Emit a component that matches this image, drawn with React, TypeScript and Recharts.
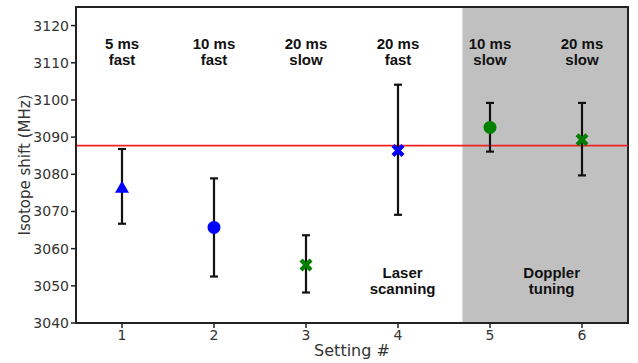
import React from "react";
import {
  ComposedChart,
  Scatter,
  XAxis,
  YAxis,
  ErrorBar,
  ReferenceArea,
  ReferenceLine,
  ReferenceDot,
  Label,
} from "recharts";

const settings = [1, 2, 3, 4, 5, 6];
const shift = [3076.4, 3065.7, 3055.6, 3086.4, 3092.6, 3089.3];
const lower = [3066.7, 3052.5, 3048.2, 3069.1, 3086.1, 3079.7];
const upper = [3086.8, 3078.9, 3063.6, 3104.1, 3099.2, 3099.2];
const markers = ["triangle", "circle", "cross", "cross", "circle", "cross"];
const colors = ["#0000ff", "#0000ff", "#008000", "#0000ff", "#008000", "#008000"];
const topLabels = [
  ["5 ms", "fast"],
  ["10 ms", "fast"],
  ["20 ms", "slow"],
  ["20 ms", "fast"],
  ["10 ms", "slow"],
  ["20 ms", "slow"],
];
const groupLabels = [
  { x: 4.05, lines: ["Laser", "scanning"] },
  { x: 5.67, lines: ["Doppler", "tuning"] },
];
const yTicks = [3040, 3050, 3060, 3070, 3080, 3090, 3100, 3110, 3120];
const meanShift = 3087.7;
const dopplerStart = 4.7;

const data = settings.map((s, i) => ({
  x: s,
  y: shift[i],
  err: [shift[i] - lower[i], upper[i] - shift[i]],
  marker: markers[i],
  color: colors[i],
}));

const tickFont = { fontFamily: "DejaVu Sans", fontSize: 14, fill: "#333" };
const noteFont = "Liberation Sans, Arial, sans-serif";

function MarkerShape(props: any) {
  const { cx, cy, payload } = props;
  const c = payload.color;
  if (payload.marker === "triangle") {
    return <path d={`M${cx},${cy - 7} L${cx + 7},${cy + 5} L${cx - 7},${cy + 5} Z`} fill={c} />;
  }
  if (payload.marker === "circle") {
    return <circle cx={cx} cy={cy} r={6.5} fill={c} />;
  }
  const a = 5;
  return (
    <g>
      <line x1={cx - a} y1={cy - a} x2={cx + a} y2={cy + a} stroke={c} strokeWidth={4.2} />
      <line x1={cx - a} y1={cy + a} x2={cx + a} y2={cy - a} stroke={c} strokeWidth={4.2} />
    </g>
  );
}

function TwoLineLabel(props: any) {
  const { viewBox, lines, dy } = props;
  const cx = viewBox.x + viewBox.width / 2;
  const cy = viewBox.y + viewBox.height / 2;
  return (
    <text
      x={cx}
      y={cy + dy}
      textAnchor="middle"
      fontFamily={noteFont}
      fontWeight="bold"
      fontSize={15}
      fill="#111"
    >
      <tspan x={cx} dy={0}>{lines[0]}</tspan>
      <tspan x={cx} dy={16}>{lines[1]}</tspan>
    </text>
  );
}

export default function App() {
  return (
    <div style={{ position: "absolute", left: 0, top: 0, background: "#fff" }}>
      <ComposedChart
        width={638}
        height={363}
        data={data}
        margin={{ top: 7, right: 10, bottom: 0, left: 0 }}
      >
        <ReferenceArea
          x1={dopplerStart}
          x2={6.5}
          y1={3040}
          y2={3125}
          fill="#c0c0c0"
          fillOpacity={1}
          stroke="none"
        />
        <XAxis
          type="number"
          dataKey="x"
          domain={[0.5, 6.5]}
          ticks={settings}
          height={40}
          tick={tickFont}
          tickSize={5}
          tickLine={{ stroke: "#222", strokeWidth: 1.5 }}
          axisLine={{ stroke: "#222", strokeWidth: 2 }}
        >
          <Label
            value="Setting #"
            position="insideBottom"
            offset={7}
            style={{ fontFamily: "DejaVu Sans", fontSize: 16, fill: "#333" }}
          />
        </XAxis>
        <YAxis
          type="number"
          dataKey="y"
          domain={[3040, 3125]}
          ticks={yTicks}
          width={76}
          allowDataOverflow
          tick={tickFont}
          tickSize={5}
          tickLine={{ stroke: "#222", strokeWidth: 1.5 }}
          axisLine={{ stroke: "#222", strokeWidth: 2 }}
        >
          <Label
            value="Isotope shift (MHz)"
            angle={-90}
            position="insideLeft"
            offset={25}
            style={{ textAnchor: "middle", fontFamily: "DejaVu Sans", fontSize: 15, fill: "#333" }}
          />
        </YAxis>
        <ReferenceLine y={meanShift} stroke="#ee2222" strokeWidth={1.8} />
        <Scatter dataKey="y" shape={MarkerShape} isAnimationActive={false}>
          <ErrorBar dataKey="err" direction="y" width={4} stroke="#111" strokeWidth={2.2} />
        </Scatter>
        {settings.map((s, i) => (
          <ReferenceDot
            key={`t${s}`}
            x={s}
            y={3113}
            r={0}
            fill="none"
            stroke="none"
            label={(p: any) => <TwoLineLabel {...p} lines={topLabels[i]} dy={-3} />}
          />
        ))}
        {groupLabels.map((g) => (
          <ReferenceDot
            key={g.lines[0]}
            x={g.x}
            y={3051}
            r={0}
            fill="none"
            stroke="none"
            label={(p: any) => <TwoLineLabel {...p} lines={g.lines} dy={-4} />}
          />
        ))}
        <ReferenceArea
          x1={0.5}
          x2={6.5}
          y1={3040}
          y2={3125}
          fill="none"
          stroke="#222"
          strokeWidth={2}
        />
      </ComposedChart>
    </div>
  );
}
